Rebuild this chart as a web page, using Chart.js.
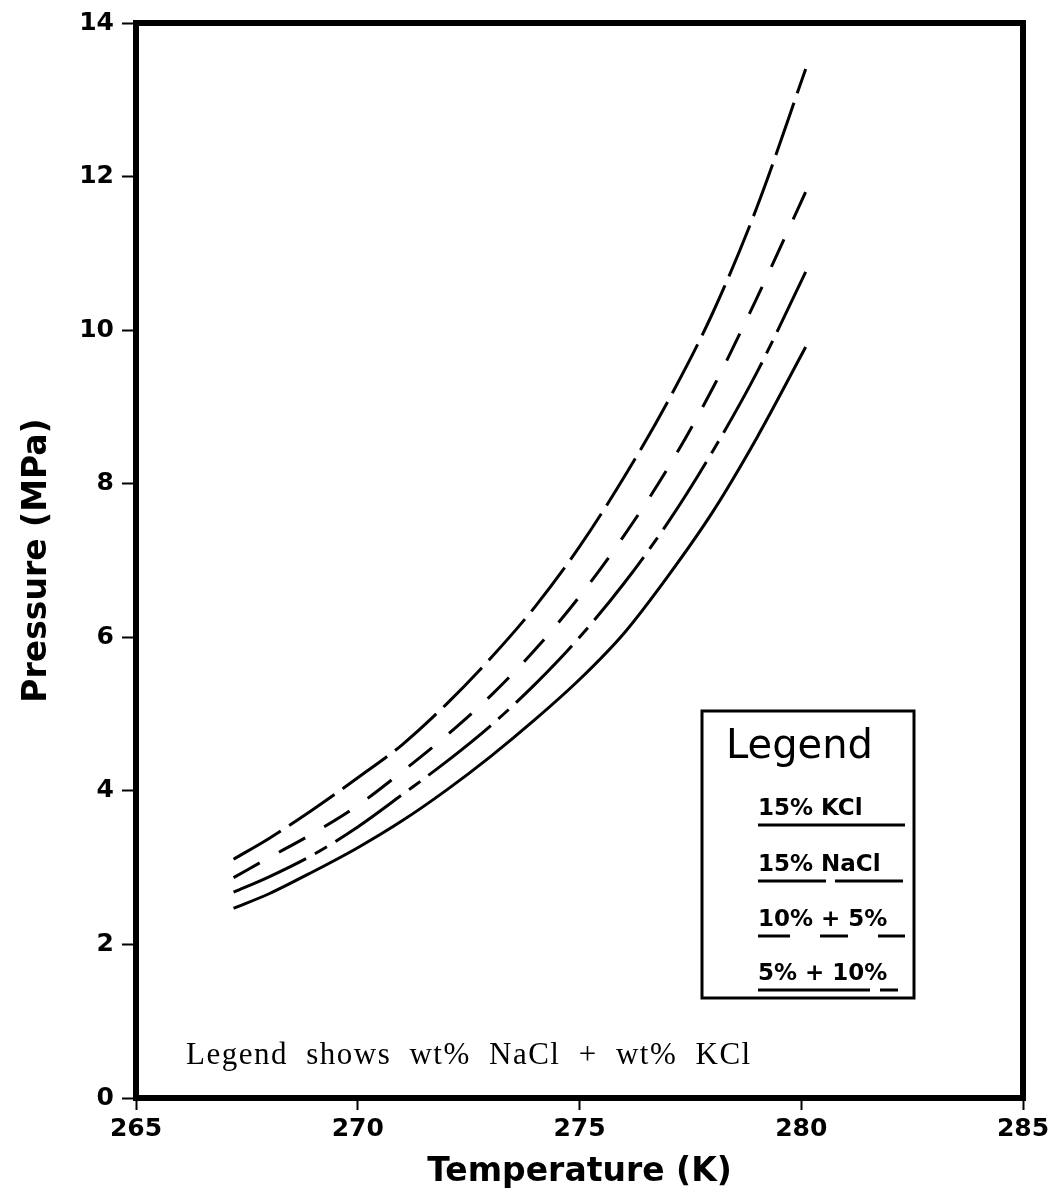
<!DOCTYPE html>
<html>
<head>
<meta charset="utf-8">
<script src="https://cdn.jsdelivr.net/npm/chart.js@4/dist/chart.umd.min.js"></script>
<style>
  html, body { margin: 0; padding: 0; background: #fff; }
  #wrap { width: 1055px; height: 1202px; }
</style>
</head>
<body>
<div id="wrap"><canvas id="chart" width="1055" height="1202"></canvas></div>
<script>
// temperature grid (K) the curves were read at
var temperatures = [267.2, 268, 269, 270, 271, 272, 273, 274, 275, 276, 277, 278, 279, 280.1];

// pressure (MPa)
var nacl15 = [3.11, 3.38, 3.76, 4.17, 4.60, 5.13, 5.73, 6.40, 7.18, 8.08, 9.08, 10.22, 11.6, 13.4];
var mix10_5 = [2.87, 3.13, 3.45, 3.81, 4.25, 4.72, 5.24, 5.84, 6.53, 7.32, 8.21, 9.24, 10.42, 11.8];
var mix5_10 = [2.68, 2.88, 3.17, 3.53, 3.95, 4.38, 4.85, 5.39, 6.0, 6.7, 7.5, 8.42, 9.45, 10.76];
var kcl15 = [2.47, 2.66, 2.95, 3.26, 3.61, 4.01, 4.45, 4.93, 5.45, 6.05, 6.80, 7.63, 8.6, 9.78];

var xTicks = [265, 270, 275, 280, 285];
var yTicks = [0, 2, 4, 6, 8, 10, 12, 14];

var legendLabels = ['15% KCl', '15% NaCl', '10% + 5%', '5% + 10%'];
var noteText = 'Legend shows wt% NaCl + wt% KCl';

function toPoints(ys) {
  return ys.map(function (y, i) { return { x: temperatures[i], y: y }; });
}

var dashKCl = [];
var dashNaCl = [55, 10];
var dash10_5 = [30, 22];
var dash5_10 = [80, 10, 14, 10];

function series(label, ys, dash) {
  return {
    label: label,
    data: toPoints(ys),
    borderColor: '#000',
    borderWidth: 3,
    borderDash: dash,
    pointRadius: 0,
    fill: false,
    showLine: true,
    cubicInterpolationMode: 'monotone'
  };
}

var framePlugin = {
  id: 'frame',
  afterDraw: function (chart) {
    var ctx = chart.ctx;
    var a = chart.chartArea;
    ctx.save();
    ctx.strokeStyle = '#000';
    ctx.lineWidth = 6;
    ctx.strokeRect(a.left, a.top, a.right - a.left, a.bottom - a.top);

    // legend box
    var bx = 702, by = 711, bw = 212, bh = 287;
    ctx.fillStyle = '#fff';
    ctx.fillRect(bx, by, bw, bh);
    ctx.lineWidth = 3;
    ctx.strokeRect(bx, by, bw, bh);

    ctx.fillStyle = '#000';
    ctx.textBaseline = 'alphabetic';
    ctx.textAlign = 'left';
    ctx.font = '40px "DejaVu Sans"';
    ctx.fillText('Legend', 726, 758);

    ctx.font = 'bold 23px "DejaVu Sans"';
    var rows = [
      { text: legendLabels[0], y: 815, dash: dashKCl },
      { text: legendLabels[1], y: 871, dash: [68, 9] },
      { text: legendLabels[2], y: 926, dash: [32, 30, 28, 30] },
      { text: legendLabels[3], y: 980, dash: [112, 10, 18, 10] }
    ];
    rows.forEach(function (r) {
      ctx.fillText(r.text, 758, r.y);
      ctx.beginPath();
      ctx.lineWidth = 3;
      ctx.setLineDash(r.dash);
      ctx.moveTo(758, r.y + 10);
      ctx.lineTo(905, r.y + 10);
      ctx.stroke();
    });
    ctx.setLineDash([]);

    ctx.font = '31px "Liberation Serif"';
    ctx.letterSpacing = '1.5px';
    ctx.wordSpacing = '9px';
    ctx.fillText(noteText, 186, 1064);
    ctx.restore();
  }
};

new Chart(document.getElementById('chart'), {
  type: 'scatter',
  data: {
    datasets: [
      series('15% NaCl', nacl15, dashNaCl),
      series('10% + 5%', mix10_5, dash10_5),
      series('5% + 10%', mix5_10, dash5_10),
      series('15% KCl', kcl15, dashKCl)
    ]
  },
  options: {
    responsive: false,
    animation: false,
    layout: { padding: { top: 22, right: 32, left: 0, bottom: 0 } },
    plugins: {
      legend: { display: false },
      tooltip: { enabled: false }
    },
    scales: {
      x: {
        type: 'linear',
        min: 265,
        max: 285,
        afterBuildTicks: function (axis) {
          axis.ticks = xTicks.map(function (v) { return { value: v }; });
        },
        afterFit: function (axis) { axis.height = 104; },
        grid: {
          drawOnChartArea: false,
          drawTicks: true,
          tickLength: 12,
          tickWidth: 2,
          color: '#000'
        },
        border: { display: false },
        ticks: {
          color: '#000',
          padding: 4,
          font: { family: 'DejaVu Sans', size: 25, weight: 'bold' }
        },
        title: {
          display: true,
          text: 'Temperature (K)',
          color: '#000',
          padding: { top: 0, bottom: 10 },
          font: { family: 'DejaVu Sans', size: 33, weight: 'bold' }
        }
      },
      y: {
        type: 'linear',
        min: 0,
        max: 14,
        afterBuildTicks: function (axis) {
          axis.ticks = yTicks.map(function (v) { return { value: v }; });
        },
        afterFit: function (axis) { axis.width = 136; },
        grid: {
          drawOnChartArea: false,
          drawTicks: true,
          tickLength: 14,
          tickWidth: 2,
          color: '#000'
        },
        border: { display: false },
        ticks: {
          color: '#000',
          padding: 8,
          font: { family: 'DejaVu Sans', size: 25, weight: 'bold' }
        },
        title: {
          display: true,
          text: 'Pressure (MPa)',
          color: '#000',
          padding: { top: 18, bottom: 0 },
          font: { family: 'DejaVu Sans', size: 33, weight: 'bold' }
        }
      }
    }
  },
  plugins: [framePlugin]
});
</script>
</body>
</html>
